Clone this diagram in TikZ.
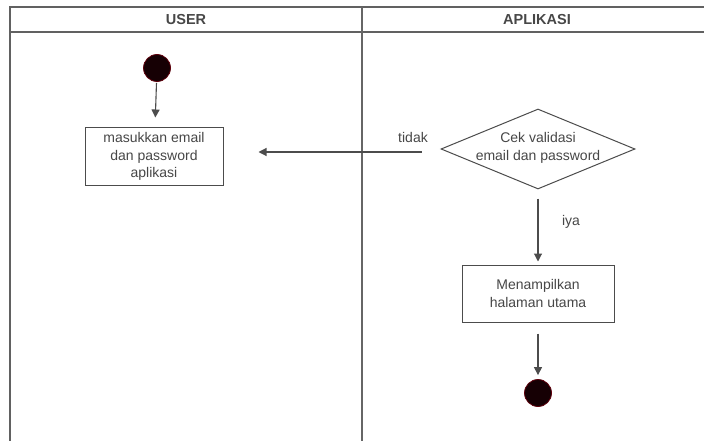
\documentclass[tikz,border=0pt]{standalone}
\usepackage{fontspec}
\setmainfont{Liberation Sans}
\usetikzlibrary{shapes.geometric,arrows.meta}

\begin{document}
\begin{tikzpicture}[x=1pt,y=-1pt,
  lane/.style={draw=black!62,line width=1.6pt},
  divider/.style={draw=black!60,line width=2.6pt},
  act/.style={draw=black!70,line width=1pt,fill=white,align=center,text=black!72,
    font=\fontsize{14}{17.5}\selectfont,minimum width=138pt,minimum height=57pt,inner sep=0pt},
  decide/.style={diamond,draw=black!70,line width=1pt,fill=white,
    minimum width=194pt,minimum height=80pt,inner sep=0pt},
  dot/.style={circle,fill={rgb,255:red,22;green,0;blue,4},draw={rgb,255:red,95;green,0;blue,12},
    line width=0.8pt,minimum size=27pt,inner sep=0pt},
  flow/.style={draw=black!70,line width=1.1pt,-{Triangle[width=8pt,length=8pt]}},
  lbl/.style={text=black!72,font=\fontsize{14}{18}\selectfont,inner sep=0pt,align=center},
  head/.style={font=\bfseries\fontsize{14.5}{17.5}\selectfont,text=black!72,inner sep=0pt}]

  % canvas
  \fill[white] (0,0) rectangle (704,441);
  \useasboundingbox (0,0) rectangle (704,441);

  % swimlane frame
  \draw[lane] (10,441) -- (10,7) -- (704,7);
  \draw[lane] (10,32) -- (704,32);
  \draw[divider] (362,7) -- (362,441);
  \node[head] (huser) at (186,19.5) {USER};
  \node[head] (happ) at (537,19.5) {APLIKASI};

  % user lane
  \node[dot] (start) at (157,68) {};
  \node[act] (masuk) at (154,156.5) {masukkan email\\dan password\\aplikasi};

  % application lane
  \node[decide] (cek) at (538,149) {};
  \node[lbl] (cektext) at (538,147.5) {Cek validasi\\email dan password};
  \node[act,minimum width=152pt] (utama) at (538,293.5) {Menampilkan\\halaman utama};
  \node[dot] (end) at (538,393) {};

  % flows
  \draw[flow,shorten <=1pt,shorten >=10pt] (start) -- (masuk);
  \draw[flow,shorten <=19pt,shorten >=35pt] ([yshift=-3pt]cek.west) -- ([yshift=-3pt]cek.west -| masuk.east);
  \node[lbl] (tidak) at (413,137) {tidak};
  \draw[flow,shorten <=9pt,shorten >=3pt] (cek.south) -- (utama.north);
  \node[lbl] (iya) at (571,222) {iya};
  \draw[flow,shorten <=11pt,shorten >=4pt] (utama.south) -- (end.north);
\end{tikzpicture}
\end{document}
